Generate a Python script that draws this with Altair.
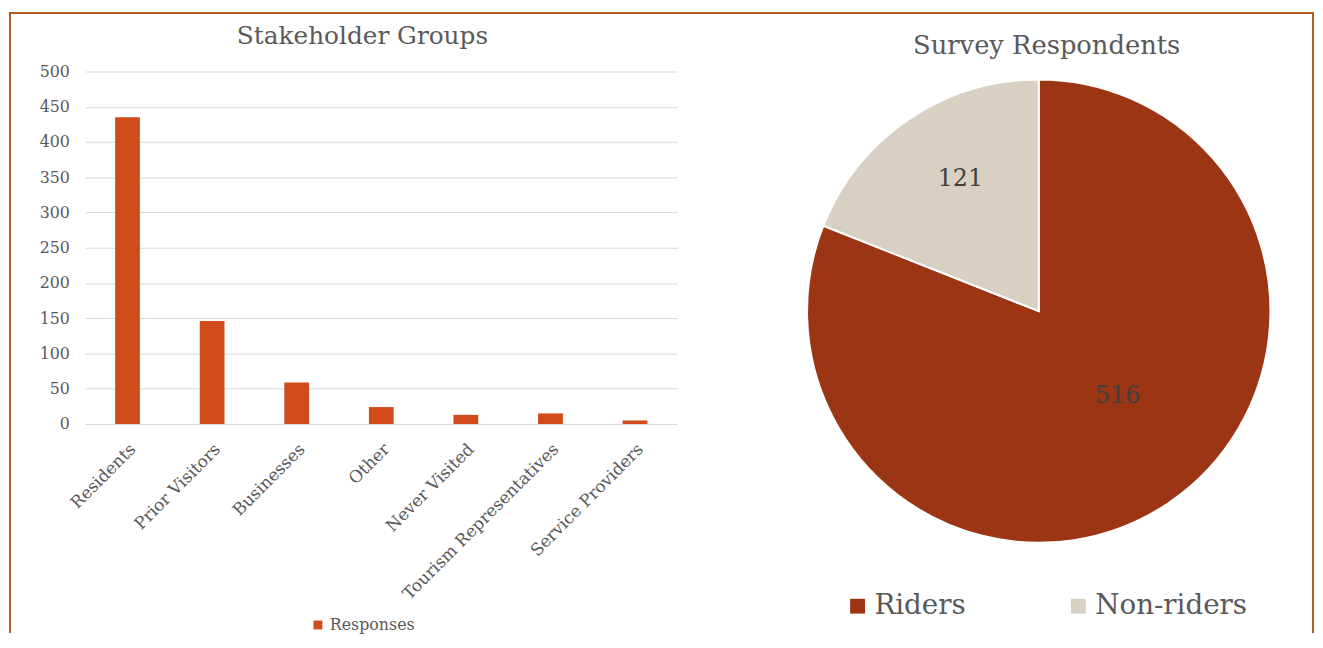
import altair as alt
import pandas as pd

# ---- data ----
groups = ["Residents", "Prior Visitors", "Businesses", "Other",
          "Never Visited", "Tourism Representatives", "Service Providers"]
responses = [435, 146, 59, 24, 13, 15, 5]
series_name = "Responses"
y_ticks = [0, 50, 100, 150, 200, 250, 300, 350, 400, 450, 500]

pie_labels = ["Riders", "Non-riders"]
pie_values = [516, 121]

left_title = "Stakeholder Groups"
right_title = "Survey Respondents"

# ---- style ----
FONT = "DejaVu Serif"
TXT = "#595959"
BORDER = "#B35C1E"
BAR = "#D04A1A"
RIDERS = "#9C3513"
NONRIDERS = "#D8D1C3"
GRID = "#D9D9D9"

bar_df = pd.DataFrame({"group": groups, "responses": responses,
                       "series": [series_name] * len(groups)})
pie_df = pd.DataFrame({"label": pie_labels, "value": pie_values,
                       "idx": list(range(len(pie_labels)))})
one = pd.DataFrame({"k": [0]})

W_L, H_L = 598, 356
W_R, H_R = 468, 484

bars = alt.Chart(bar_df).mark_bar(size=25).encode(
    x=alt.X("group:N", sort=groups,
            scale=alt.Scale(paddingInner=0, paddingOuter=0),
            axis=alt.Axis(title=None, labelAngle=-45, labelAlign="right",
                          labelBaseline="top", labelFontSize=17,
                          labelColor=TXT, ticks=False, domainColor=GRID,
                          labelPadding=17, labelLimit=0, grid=False)),
    y=alt.Y("responses:Q", scale=alt.Scale(domain=[0, 500]),
            axis=alt.Axis(title=None, values=y_ticks, labelFontSize=16,
                          labelColor=TXT, ticks=False, domain=False,
                          gridColor=GRID, labelPadding=16)),
    color=alt.Color("series:N", scale=alt.Scale(range=[BAR]),
                    legend=alt.Legend(title=None, orient="none",
                                      legendX=227, legendY=551,
                                      symbolType="square", symbolSize=80,
                                      labelFontSize=16, labelColor=TXT,
                                      labelOffset=4, symbolStrokeWidth=0)),
)

titleL = alt.Chart(one).mark_text(fontSize=25, color=TXT, baseline="middle").encode(
    x=alt.value(280), y=alt.value(-36), text=alt.value(left_title))
topL = alt.Chart(one).mark_rule(color=BORDER, strokeWidth=2, strokeCap="square").encode(
    x=alt.value(-76), x2=alt.value(655), y=alt.value(-59))
leftL = alt.Chart(one).mark_rule(color=BORDER, strokeWidth=2, strokeCap="square").encode(
    x=alt.value(-76), y=alt.value(-59), y2=alt.value(566))

left = alt.layer(bars, titleL, topL, leftL).properties(width=W_L, height=H_L)

base = alt.Chart(pie_df).encode(
    theta=alt.Theta("value:Q", stack=True),
    order=alt.Order("idx:Q"))

arcs = base.mark_arc(outerRadius=234, stroke="white", strokeWidth=2).encode(
    color=alt.Color("label:N",
                    scale=alt.Scale(domain=pie_labels, range=[RIDERS, NONRIDERS]),
                    legend=alt.Legend(title=None, orient="none", direction="horizontal",
                                      legendX=37, legendY=526,
                                      symbolType="square", symbolSize=225,
                                      symbolStrokeWidth=0,
                                      labelFontSize=28, labelColor=TXT,
                                      labelOffset=3, columnPadding=99)))

lab_non = base.transform_calculate(
    t="datum.label == 'Non-riders' ? format(datum.value, 'd') : ''"
).mark_text(radius=155, fontSize=24, color="#404040", dx=8, dy=-5).encode(text="t:N")
lab_rid = base.transform_calculate(
    t="datum.label == 'Riders' ? format(datum.value, 'd') : ''"
).mark_text(radius=117, fontSize=24, color="#404040", dx=14, dy=-11).encode(text="t:N")

titleR = alt.Chart(one).mark_text(fontSize=26, color=TXT, baseline="middle").encode(
    x=alt.value(242), y=alt.value(-26), text=alt.value(right_title))
topR = alt.Chart(one).mark_rule(color=BORDER, strokeWidth=2, strokeCap="square").encode(
    x=alt.value(-74), x2=alt.value(511), y=alt.value(-59))
rightR = alt.Chart(one).mark_rule(color=BORDER, strokeWidth=2, strokeCap="square").encode(
    x=alt.value(511), y=alt.value(-59), y2=alt.value(566))

right = alt.layer(arcs, lab_non, lab_rid, titleR, topR, rightR).properties(
    width=W_R, height=H_R)

chart = alt.hconcat(left, right, spacing=-4).properties(padding=0).resolve_scale(
    color="independent").configure(font=FONT).configure_view(strokeWidth=0)

chart.save("out.html", embed_options={"renderer": "svg", "actions": False})
